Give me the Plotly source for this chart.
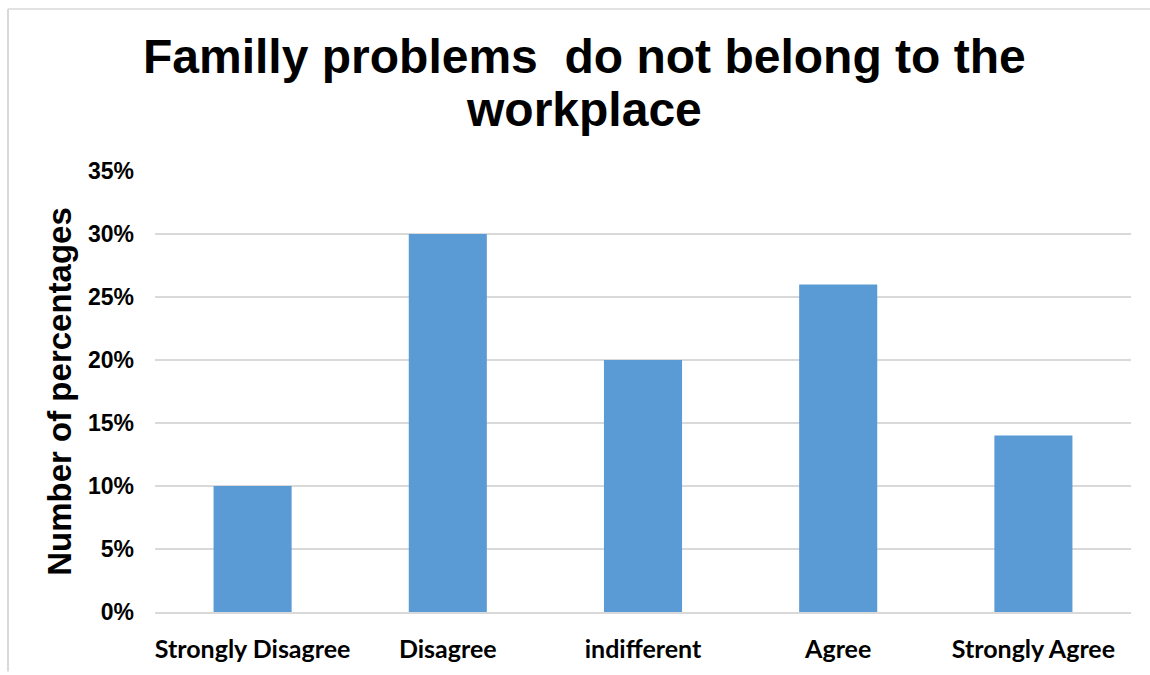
import plotly.graph_objects as go

categories = ["Strongly Disagree", "Disagree", "indifferent", "Agree", "Strongly Agree"]
values = [0.10, 0.30, 0.20, 0.26, 0.14]
tick_vals = [0, 0.05, 0.10, 0.15, 0.20, 0.25, 0.30, 0.35]
tick_text = ["0%", "5%", "10%", "15%", "20%", "25%", "30%", "35%"]
title_lines = ["Familly problems  do not belong to the", "workplace"]

W, H = 1150, 675
L, R, T, B = 155, 19, 171, 60
pw, ph = W - L - R, H - T - B

def px(x):
    return (x - L) / pw

def py(y):
    return (H - B - y) / ph

fig = go.Figure(go.Bar(
    x=categories, y=values, marker_color="#5B9BD5", width=0.4,
    marker_line_width=0,
))

fig.update_layout(
    width=W, height=H,
    margin=dict(l=L, r=R, t=T, b=B),
    paper_bgcolor="white", plot_bgcolor="white",
    showlegend=False,
    xaxis=dict(
        tickfont=dict(family="Lato, Carlito, Calibri", size=25, color="black", weight="bold"),
        showgrid=False, showline=True, linecolor="#D9D9D9", linewidth=2,
        ticks="", ticklen=0, ticklabelstandoff=14,
    ),
    yaxis=dict(
        range=[0, 0.35], tickvals=tick_vals, ticktext=tick_text,
        tickfont=dict(family="Liberation Sans, Arial", size=23, color="black", weight="bold"),
        showgrid=True, gridcolor="#D9D9D9", gridwidth=2,
        zeroline=False, showline=False, ticks="", ticklabelstandoff=20,
        title=dict(text="Number of percentages",
                   font=dict(family="Liberation Sans, Arial", size=33, color="black", weight="bold"),
                   standoff=6),
    ),
    bargap=0.6,
)

for line, ymid in zip(title_lines, [56, 109]):
    fig.add_annotation(
        text=line, xref="paper", yref="paper", x=px(584), y=py(ymid),
        xanchor="center", yanchor="middle", showarrow=False,
        font=dict(family="Liberation Sans, Arial", size=48, color="black", weight="bold"),
    )

fig.add_shape(type="line", xref="paper", yref="paper",
              x0=px(8), x1=px(8), y0=py(8), y1=py(H), line=dict(color="#D9D9D9", width=2))
fig.add_shape(type="line", xref="paper", yref="paper",
              x0=px(8), x1=px(W), y0=py(8), y1=py(8), line=dict(color="#D9D9D9", width=1.5))

fig.write_html("out.html")
